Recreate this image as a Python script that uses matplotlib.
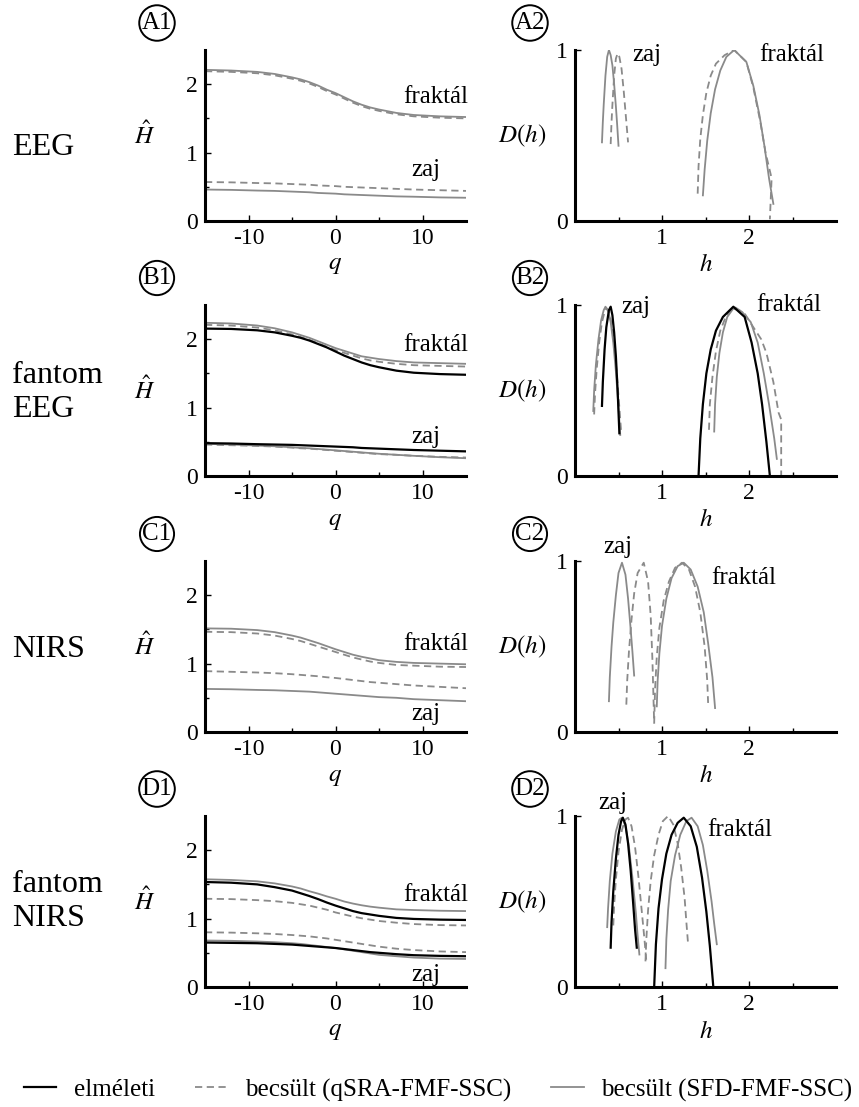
import numpy as np
import matplotlib
matplotlib.use("Agg")
import matplotlib.pyplot as plt
from matplotlib.lines import Line2D

plt.rcParams['font.family'] = ['Liberation Serif', 'DejaVu Serif']
plt.rcParams['mathtext.fontset'] = 'stix'
plt.rcParams['axes.unicode_minus'] = False

# q grid shared by all H(q) curves
q_grid = [-15, -12, -9, -7, -5, -4, -3, -2, -1, 0, 1, 2, 3, 4, 5, 7, 9, 12, 15]

# --- H(q) curves, left column ---
a1_frak_sfd = [2.21, 2.20, 2.18, 2.15, 2.10, 2.07, 2.03, 1.98, 1.92, 1.87, 1.81, 1.75, 1.70, 1.66, 1.63, 1.58, 1.55, 1.53, 1.52]
a1_frak_qsra = [2.19, 2.18, 2.16, 2.13, 2.08, 2.05, 2.01, 1.96, 1.90, 1.85, 1.79, 1.73, 1.68, 1.64, 1.61, 1.56, 1.53, 1.51, 1.50]
a1_zaj_qsra = [0.57, 0.565, 0.555, 0.55, 0.54, 0.535, 0.53, 0.52, 0.515, 0.51, 0.50, 0.495, 0.49, 0.485, 0.48, 0.47, 0.46, 0.45, 0.44]
a1_zaj_sfd = [0.46, 0.455, 0.445, 0.44, 0.43, 0.425, 0.42, 0.41, 0.405, 0.40, 0.39, 0.385, 0.38, 0.375, 0.37, 0.36, 0.355, 0.345, 0.34]

b1_frak_theo = [2.155, 2.15, 2.13, 2.10, 2.05, 2.02, 1.98, 1.93, 1.88, 1.82, 1.76, 1.71, 1.66, 1.62, 1.59, 1.54, 1.51, 1.49, 1.48]
b1_frak_sfd = [2.24, 2.23, 2.20, 2.16, 2.10, 2.06, 2.02, 1.97, 1.92, 1.87, 1.83, 1.79, 1.75, 1.73, 1.71, 1.68, 1.66, 1.65, 1.64]
b1_frak_qsra = [2.21, 2.20, 2.17, 2.13, 2.07, 2.03, 1.99, 1.94, 1.89, 1.84, 1.80, 1.76, 1.72, 1.69, 1.67, 1.64, 1.62, 1.61, 1.60]
b1_zaj_theo = [0.48, 0.475, 0.465, 0.46, 0.455, 0.45, 0.445, 0.44, 0.435, 0.43, 0.425, 0.42, 0.41, 0.405, 0.40, 0.39, 0.38, 0.37, 0.36]
b1_zaj_sfd = [0.47, 0.46, 0.445, 0.435, 0.42, 0.41, 0.405, 0.395, 0.385, 0.375, 0.365, 0.355, 0.345, 0.335, 0.325, 0.31, 0.295, 0.275, 0.26]
b1_zaj_qsra = [0.46, 0.45, 0.44, 0.43, 0.415, 0.405, 0.40, 0.39, 0.38, 0.37, 0.36, 0.35, 0.34, 0.33, 0.32, 0.31, 0.295, 0.28, 0.27]

c1_frak_sfd = [1.515, 1.51, 1.49, 1.46, 1.41, 1.38, 1.34, 1.30, 1.255, 1.21, 1.17, 1.13, 1.10, 1.075, 1.05, 1.025, 1.01, 1.00, 0.99]
c1_frak_qsra = [1.465, 1.46, 1.44, 1.41, 1.36, 1.33, 1.29, 1.25, 1.21, 1.17, 1.13, 1.09, 1.06, 1.03, 1.01, 0.98, 0.97, 0.955, 0.95]
c1_zaj_qsra = [0.89, 0.88, 0.87, 0.86, 0.845, 0.835, 0.825, 0.815, 0.80, 0.79, 0.775, 0.76, 0.745, 0.73, 0.72, 0.70, 0.68, 0.66, 0.64]
c1_zaj_sfd = [0.63, 0.625, 0.615, 0.61, 0.60, 0.595, 0.59, 0.58, 0.57, 0.56, 0.55, 0.54, 0.53, 0.52, 0.51, 0.50, 0.48, 0.465, 0.45]

d1_frak_sfd = [1.575, 1.565, 1.545, 1.515, 1.47, 1.44, 1.40, 1.365, 1.325, 1.29, 1.25, 1.22, 1.195, 1.175, 1.16, 1.135, 1.125, 1.115, 1.11]
d1_frak_theo = [1.535, 1.525, 1.50, 1.46, 1.41, 1.37, 1.33, 1.285, 1.235, 1.19, 1.15, 1.11, 1.08, 1.06, 1.04, 1.01, 0.995, 0.985, 0.98]
d1_frak_qsra = [1.29, 1.285, 1.27, 1.255, 1.23, 1.21, 1.19, 1.16, 1.13, 1.09, 1.06, 1.03, 1.005, 0.985, 0.965, 0.94, 0.92, 0.905, 0.90]
d1_zaj_qsra = [0.80, 0.795, 0.785, 0.775, 0.76, 0.75, 0.74, 0.725, 0.71, 0.69, 0.67, 0.65, 0.63, 0.61, 0.59, 0.56, 0.54, 0.52, 0.51]
d1_zaj_theo = [0.65, 0.645, 0.64, 0.63, 0.62, 0.61, 0.60, 0.59, 0.58, 0.57, 0.555, 0.54, 0.525, 0.51, 0.50, 0.48, 0.465, 0.455, 0.45]
d1_zaj_sfd = [0.68, 0.675, 0.665, 0.655, 0.64, 0.63, 0.615, 0.60, 0.585, 0.57, 0.55, 0.53, 0.51, 0.49, 0.47, 0.45, 0.43, 0.415, 0.41]

# --- D(h) spectra, right column ---
a2_zaj_sfd_h = [0.31, 0.32, 0.33, 0.35, 0.37, 0.39, 0.41, 0.43, 0.45, 0.47, 0.485, 0.50]
a2_zaj_sfd_d = [0.46, 0.58, 0.68, 0.85, 0.96, 1.00, 0.97, 0.91, 0.80, 0.67, 0.56, 0.44]
a2_zaj_qsra_h = [0.41, 0.42, 0.43, 0.45, 0.47, 0.49, 0.51, 0.535, 0.56, 0.58, 0.60, 0.61]
a2_zaj_qsra_d = [0.45, 0.58, 0.68, 0.85, 0.95, 0.98, 0.96, 0.89, 0.76, 0.64, 0.52, 0.46]
a2_frak_sfd_h = [1.47, 1.49, 1.52, 1.56, 1.61, 1.67, 1.74, 1.83, 1.97, 2.05, 2.12, 2.18, 2.23, 2.28]
a2_frak_sfd_d = [0.15, 0.30, 0.47, 0.63, 0.77, 0.88, 0.96, 1.00, 0.93, 0.79, 0.62, 0.43, 0.25, 0.10]
a2_frak_qsra_h = [1.41, 1.42, 1.44, 1.47, 1.51, 1.56, 1.62, 1.72, 1.83, 1.97, 2.05, 2.13, 2.19, 2.26, 2.24]
a2_frak_qsra_d = [0.16, 0.32, 0.48, 0.62, 0.75, 0.85, 0.92, 0.97, 1.00, 0.93, 0.78, 0.58, 0.40, 0.25, 0.01]

b2_zaj_theo_h = [0.31, 0.32, 0.34, 0.36, 0.39, 0.41, 0.43, 0.45, 0.47, 0.49, 0.51]
b2_zaj_theo_d = [0.41, 0.55, 0.74, 0.87, 0.97, 0.99, 0.94, 0.84, 0.70, 0.50, 0.25]
b2_zaj_sfd_h = [0.21, 0.22, 0.24, 0.27, 0.30, 0.33, 0.35, 0.38, 0.41, 0.44, 0.47, 0.50, 0.52]
b2_zaj_sfd_d = [0.38, 0.50, 0.65, 0.80, 0.91, 0.97, 0.99, 0.97, 0.90, 0.78, 0.61, 0.40, 0.24]
b2_zaj_qsra_h = [0.22, 0.23, 0.25, 0.28, 0.31, 0.34, 0.36, 0.39, 0.42, 0.45, 0.48, 0.51, 0.53]
b2_zaj_qsra_d = [0.36, 0.48, 0.63, 0.79, 0.90, 0.96, 0.98, 0.96, 0.89, 0.77, 0.60, 0.40, 0.26]
b2_frak_theo_h = [1.42, 1.44, 1.47, 1.51, 1.56, 1.62, 1.70, 1.82, 1.95, 2.03, 2.10, 2.15, 2.20, 2.24]
b2_frak_theo_d = [0.00, 0.22, 0.42, 0.60, 0.74, 0.85, 0.93, 0.99, 0.93, 0.78, 0.60, 0.42, 0.20, 0.00]
b2_frak_sfd_h = [1.60, 1.61, 1.63, 1.66, 1.70, 1.75, 1.82, 1.92, 2.02, 2.10, 2.17, 2.23, 2.29, 2.32]
b2_frak_sfd_d = [0.26, 0.42, 0.58, 0.72, 0.84, 0.93, 0.98, 0.96, 0.90, 0.78, 0.60, 0.42, 0.22, 0.10]
b2_frak_qsra_h = [1.54, 1.55, 1.58, 1.62, 1.67, 1.74, 1.83, 1.95, 2.05, 2.14, 2.20, 2.28, 2.34, 2.37, 2.37]
b2_frak_qsra_d = [0.27, 0.42, 0.58, 0.73, 0.85, 0.94, 0.99, 0.95, 0.87, 0.80, 0.72, 0.55, 0.37, 0.33, 0.00]

c2_zaj_sfd_h = [0.39, 0.40, 0.42, 0.44, 0.47, 0.50, 0.54, 0.58, 0.61, 0.64, 0.66, 0.68]
c2_zaj_sfd_d = [0.18, 0.32, 0.50, 0.64, 0.80, 0.93, 0.99, 0.92, 0.78, 0.60, 0.47, 0.33]
c2_zaj_qsra_h = [0.59, 0.60, 0.62, 0.65, 0.68, 0.72, 0.79, 0.84, 0.87, 0.89, 0.91]
c2_zaj_qsra_d = [0.16, 0.30, 0.47, 0.66, 0.81, 0.93, 0.99, 0.88, 0.68, 0.42, 0.05]
c2_frak_sfd_h = [0.94, 0.95, 0.97, 1.00, 1.05, 1.11, 1.18, 1.25, 1.33, 1.41, 1.48, 1.53, 1.58, 1.61]
c2_frak_sfd_d = [0.15, 0.30, 0.46, 0.62, 0.78, 0.90, 0.97, 0.99, 0.95, 0.85, 0.70, 0.52, 0.32, 0.14]
c2_frak_qsra_h = [0.91, 0.92, 0.94, 0.97, 1.02, 1.08, 1.15, 1.23, 1.31, 1.38, 1.44, 1.49, 1.52, 1.53]
c2_frak_qsra_d = [0.05, 0.25, 0.44, 0.61, 0.77, 0.88, 0.96, 0.99, 0.95, 0.85, 0.70, 0.50, 0.30, 0.17]

d2_zaj_theo_h = [0.41, 0.42, 0.44, 0.47, 0.50, 0.53, 0.55, 0.58, 0.61, 0.64, 0.67, 0.69, 0.71]
d2_zaj_theo_d = [0.23, 0.38, 0.56, 0.75, 0.89, 0.97, 0.99, 0.95, 0.84, 0.68, 0.48, 0.34, 0.23]
d2_zaj_sfd_h = [0.37, 0.38, 0.40, 0.43, 0.47, 0.51, 0.54, 0.58, 0.62, 0.66, 0.70, 0.72, 0.74]
d2_zaj_sfd_d = [0.35, 0.46, 0.62, 0.78, 0.91, 0.98, 0.99, 0.94, 0.82, 0.64, 0.43, 0.30, 0.19]
d2_zaj_qsra_h = [0.44, 0.45, 0.47, 0.50, 0.54, 0.58, 0.61, 0.65, 0.69, 0.73, 0.77, 0.80, 0.82]
d2_zaj_qsra_d = [0.36, 0.48, 0.63, 0.79, 0.92, 0.98, 0.99, 0.94, 0.82, 0.64, 0.43, 0.27, 0.15]
d2_frak_theo_h = [0.91, 0.93, 0.96, 1.00, 1.05, 1.11, 1.18, 1.25, 1.33, 1.40, 1.46, 1.51, 1.55, 1.59]
d2_frak_theo_d = [0.00, 0.25, 0.46, 0.63, 0.78, 0.89, 0.96, 0.99, 0.94, 0.82, 0.64, 0.44, 0.24, 0.00]
d2_frak_sfd_h = [1.04, 1.05, 1.07, 1.10, 1.15, 1.21, 1.28, 1.34, 1.41, 1.47, 1.52, 1.57, 1.60, 1.63]
d2_frak_sfd_d = [0.11, 0.28, 0.45, 0.62, 0.77, 0.89, 0.97, 0.99, 0.94, 0.83, 0.68, 0.50, 0.37, 0.25]
d2_frak_qsra_h = [0.81, 0.82, 0.84, 0.87, 0.91, 0.96, 1.01, 1.07, 1.13, 1.18, 1.22, 1.26, 1.28, 1.30]
d2_frak_qsra_d = [0.15, 0.28, 0.45, 0.62, 0.77, 0.89, 0.97, 1.00, 0.95, 0.84, 0.70, 0.52, 0.38, 0.25]

row_names = ['EEG', 'fantom\nEEG', 'NIRS', 'fantom\nNIRS']
row_name_shift = [12, 2, 3, 0]
panel_tags = ['A', 'B', 'C', 'D']
legend_labels = ['elméleti', 'becsült (qSRA-FMF-SSC)', 'becsült (SFD-FMF-SSC)']

GRAY = '#8a8a8a'
styles = {
    'theo': dict(color='black', lw=1.6),
    'qsra': dict(color=GRAY, lw=1.3, dashes=(4, 2.5)),
    'sfd': dict(color=GRAY, lw=1.3),
}

left_curves = [
    [('sfd', a1_frak_sfd), ('qsra', a1_frak_qsra), ('qsra', a1_zaj_qsra), ('sfd', a1_zaj_sfd)],
    [('sfd', b1_frak_sfd), ('qsra', b1_frak_qsra), ('theo', b1_frak_theo),
     ('sfd', b1_zaj_sfd), ('qsra', b1_zaj_qsra), ('theo', b1_zaj_theo)],
    [('sfd', c1_frak_sfd), ('qsra', c1_frak_qsra), ('qsra', c1_zaj_qsra), ('sfd', c1_zaj_sfd)],
    [('sfd', d1_frak_sfd), ('qsra', d1_frak_qsra), ('theo', d1_frak_theo),
     ('sfd', d1_zaj_sfd), ('qsra', d1_zaj_qsra), ('theo', d1_zaj_theo)],
]
right_curves = [
    [('sfd', a2_zaj_sfd_h, a2_zaj_sfd_d), ('qsra', a2_zaj_qsra_h, a2_zaj_qsra_d),
     ('sfd', a2_frak_sfd_h, a2_frak_sfd_d), ('qsra', a2_frak_qsra_h, a2_frak_qsra_d)],
    [('sfd', b2_zaj_sfd_h, b2_zaj_sfd_d), ('qsra', b2_zaj_qsra_h, b2_zaj_qsra_d),
     ('theo', b2_zaj_theo_h, b2_zaj_theo_d),
     ('sfd', b2_frak_sfd_h, b2_frak_sfd_d), ('qsra', b2_frak_qsra_h, b2_frak_qsra_d),
     ('theo', b2_frak_theo_h, b2_frak_theo_d)],
    [('sfd', c2_zaj_sfd_h, c2_zaj_sfd_d), ('qsra', c2_zaj_qsra_h, c2_zaj_qsra_d),
     ('sfd', c2_frak_sfd_h, c2_frak_sfd_d), ('qsra', c2_frak_qsra_h, c2_frak_qsra_d)],
    [('sfd', d2_zaj_sfd_h, d2_zaj_sfd_d), ('qsra', d2_zaj_qsra_h, d2_zaj_qsra_d),
     ('theo', d2_zaj_theo_h, d2_zaj_theo_d),
     ('sfd', d2_frak_sfd_h, d2_frak_sfd_d), ('qsra', d2_frak_qsra_h, d2_frak_qsra_d),
     ('theo', d2_frak_theo_h, d2_frak_theo_d)],
]

# label positions (data coords)
left_frak_pos = [(11.5, 1.81), (11.5, 1.92), (11.5, 1.28), (11.5, 1.34)]
left_zaj_pos = [(10.4, 0.74), (10.4, 0.57), (10.4, 0.26), (10.4, 0.18)]
right_zaj_pos = [(0.83, 0.97), (0.70, 0.99), (0.49, 1.08), (0.44, 1.075)]
right_frak_pos = [(2.49, 0.97), (2.46, 1.00), (1.94, 0.90), (1.89, 0.92)]

W, H = 859, 1107
fig = plt.figure(figsize=(W / 100, H / 100), dpi=100)

row_tops = [50, 305, 561, 816]
ax_h = 171


def px_axes(x0, x1, top):
    return fig.add_axes([x0 / W, 1 - (top + ax_h) / H, (x1 - x0) / W, ax_h / H])


def style_axes(ax):
    for s in ['top', 'right']:
        ax.spines[s].set_visible(False)
    for s in ['left', 'bottom']:
        ax.spines[s].set_linewidth(2.2)
    ax.tick_params(which='both', direction='in', width=1, labelsize=17, pad=5)
    ax.tick_params(which='major', length=4)
    ax.tick_params(which='minor', length=3)


for i, top in enumerate(row_tops):
    ax1 = px_axes(205, 466, top)
    ax2 = px_axes(575, 836, top)

    for kind, vals in left_curves[i]:
        ax1.plot(q_grid, vals, **styles[kind])
    ax1.set_xlim(-15, 15)
    ax1.set_ylim(0, 2.5)
    ax1.set_xticks([-10, 0, 10])
    ax1.set_xticks([-5, 5], minor=True)
    ax1.set_yticks([0, 1, 2])
    ax1.set_yticks([0.5, 1.5], minor=True)
    ax1.set_xlabel('$q$', fontsize=18, labelpad=4)
    style_axes(ax1)
    ax1.text(*left_frak_pos[i], 'fraktál', fontsize=18, ha='center', va='center')
    ax1.text(*left_zaj_pos[i], 'zaj', fontsize=18, ha='center', va='center')

    for kind, hh, dd in right_curves[i]:
        ax2.plot(hh, dd, **styles[kind])
    ax2.set_xlim(0, 3)
    ax2.set_ylim(0, 1)
    ax2.set_xticks([1, 2])
    ax2.set_xticks([0.5, 1.5, 2.5], minor=True)
    ax2.set_yticks([0, 1])
    ax2.set_xlabel('$h$', fontsize=18, labelpad=4)
    style_axes(ax2)
    ax2.text(*right_zaj_pos[i], 'zaj', fontsize=18, ha='center', va='center')
    ax2.text(*right_frak_pos[i], 'fraktál', fontsize=18, ha='center', va='center')

    yc = 1 - (top + ax_h / 2) / H
    fig.text(12 / W, yc - row_name_shift[i] / H, row_names[i], fontsize=23,
             ha='left', va='center', linespacing=1.25)
    fig.text(145 / W, yc, r'$\hat{H}$', fontsize=18, ha='center', va='center')
    fig.text(522 / W, yc, r'$D(h)$', fontsize=18, ha='center', va='center')

    circ = dict(boxstyle='circle,pad=0.1', fc='none', ec='black', lw=1.4)
    ty = 1 - (top - 27) / H
    fig.text(157 / W, ty, panel_tags[i] + '1', fontsize=18, ha='center', va='center',
             bbox=circ)
    fig.text(530 / W, ty, panel_tags[i] + '2', fontsize=18, ha='center', va='center',
             bbox=circ)

handles = [Line2D([], [], **styles['theo']),
           Line2D([], [], **styles['qsra']),
           Line2D([], [], **styles['sfd'])]
fig.legend(handles, legend_labels, loc='center', bbox_to_anchor=(0.51, 1 - 1090 / H),
           ncol=3, frameon=False, fontsize=18, handlelength=1.3, handletextpad=0.7,
           columnspacing=1.6)

fig.savefig('out.png', dpi=100)
